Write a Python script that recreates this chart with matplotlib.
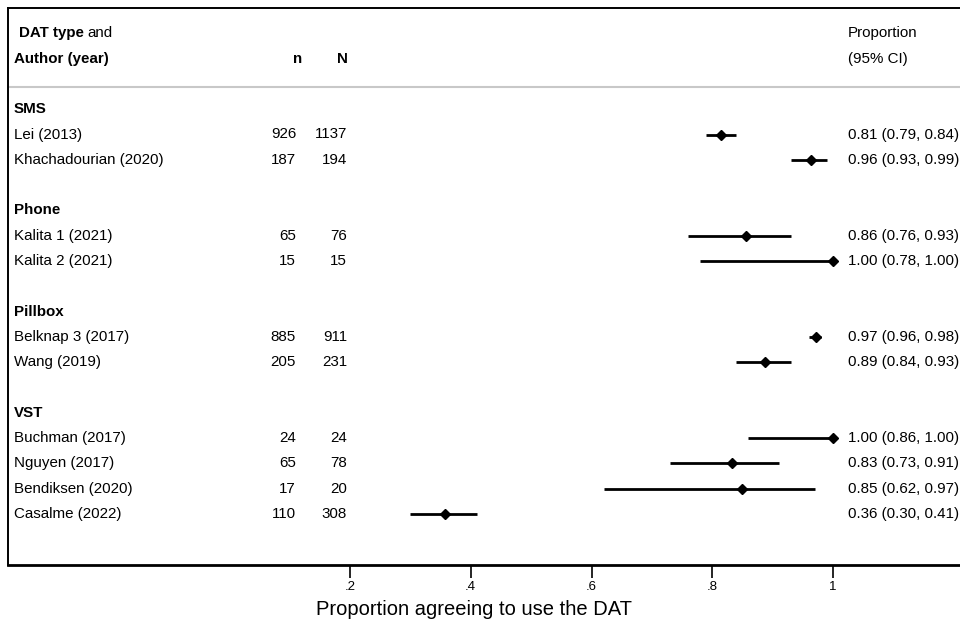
import matplotlib
matplotlib.use("Agg")
import matplotlib.pyplot as plt

plt.rcParams['font.family'] = ['Liberation Sans', 'DejaVu Sans']

# ---------------- data ----------------
groups = ["SMS", "Phone", "Pillbox", "VST"]
studies = [
    ["Lei (2013)", "Khachadourian (2020)"],
    ["Kalita 1 (2021)", "Kalita 2 (2021)"],
    ["Belknap 3 (2017)", "Wang (2019)"],
    ["Buchman (2017)", "Nguyen (2017)", "Bendiksen (2020)", "Casalme (2022)"],
]
n_vals = [[926, 187], [65, 15], [885, 205], [24, 65, 17, 110]]
N_vals = [[1137, 194], [76, 15], [911, 231], [24, 78, 20, 308]]
ci_low = [[0.79, 0.93], [0.76, 0.78], [0.96, 0.84], [0.86, 0.73, 0.62, 0.30]]
ci_high = [[0.84, 0.99], [0.93, 1.00], [0.98, 0.93], [1.00, 0.91, 0.97, 0.41]]
xticks = [0.2, 0.4, 0.6, 0.8, 1.0]
xtick_labels = [".2", ".4", ".6", ".8", "1"]
xlabel = "Proportion agreeing to use the DAT"

# ---------------- layout ----------------
W, H = 960, 620
fig = plt.figure(figsize=(W / 100, H / 100), dpi=100)
ax_left_px, ax_right_px, ax_top_px, ax_bot_px = 8, 975, 8, 565
ax = fig.add_axes([ax_left_px / W, 1 - ax_bot_px / H,
                   (ax_right_px - ax_left_px) / W, (ax_bot_px - ax_top_px) / H])

# pixel -> data mapping for x (0.2 at 350px, 1.0 at 833px)
px_per_unit = (833 - 350) / 0.8
x0_px = 350 - 0.2 * px_per_unit
def px2x(px):
    return (px - x0_px) / px_per_unit

ax.set_xlim(px2x(ax_left_px), px2x(ax_right_px))
row_px = 25.3
ax.set_ylim((ax_bot_px - ax_top_px) / row_px, 0)

fs = 10.9
# header
t_bold = ax.text(px2x(19), 1, "DAT type", fontsize=fs, fontweight='bold', va='center', ha='left')
fig.canvas.draw()
bb = t_bold.get_window_extent(renderer=fig.canvas.get_renderer())
ax.text(px2x(bb.x1 + 4), 1, "and", fontsize=fs, va='center', ha='left')
ax.text(px2x(14), 2, "Author (year)", fontsize=fs, fontweight='bold', va='center', ha='left')
ax.text(px2x(302), 2, "n", fontsize=fs, fontweight='bold', va='center', ha='right')
ax.text(px2x(348), 2, "N", fontsize=fs, fontweight='bold', va='center', ha='right')
ax.text(px2x(848), 1, "Proportion", fontsize=fs, va='center', ha='left')
ax.text(px2x(848), 2, "(95% CI)", fontsize=fs, va='center', ha='left')
ax.axhline(3.12, color='#c8c8c8', lw=1.5, zorder=1)

y = 4
for gi, g in enumerate(groups):
    ax.text(px2x(14), y, g, fontsize=fs, fontweight='bold', va='center', ha='left')
    y += 1
    for si, s in enumerate(studies[gi]):
        n = n_vals[gi][si]
        N = N_vals[gi][si]
        est = n / N
        lo = ci_low[gi][si]
        hi = ci_high[gi][si]
        ax.text(px2x(14), y, s, fontsize=fs, va='center', ha='left')
        ax.text(px2x(296), y, f"{n}", fontsize=fs, va='center', ha='right')
        ax.text(px2x(347), y, f"{N}", fontsize=fs, va='center', ha='right')
        ax.plot([lo, hi], [y, y], color='black', lw=2.0, solid_capstyle='butt', zorder=3)
        ax.plot([est], [y], marker='D', color='black', markersize=5.5, zorder=4)
        ax.text(px2x(848), y, f"{est:.2f} ({lo:.2f}, {hi:.2f})", fontsize=fs,
                va='center', ha='left')
        y += 1
    y += 1

# spines & ticks
for side in ['left', 'top']:
    ax.spines[side].set_linewidth(1.4)
ax.spines['bottom'].set_linewidth(2.0)
ax.spines['right'].set_visible(False)
ax.set_yticks([])
ax.set_xticks(xticks)
ax.set_xticklabels(xtick_labels, fontsize=9.5)
ax.tick_params(axis='x', direction='out', length=9, width=1.2, pad=2.5)
ax.set_xlabel(xlabel, fontsize=14.5)
ax.xaxis.set_label_coords((474 - ax_left_px) / (ax_right_px - ax_left_px),
                          -(619 - ax_bot_px) / (ax_bot_px - ax_top_px))
ax.xaxis.label.set_va('bottom')

fig.savefig("out.png", dpi=100)
